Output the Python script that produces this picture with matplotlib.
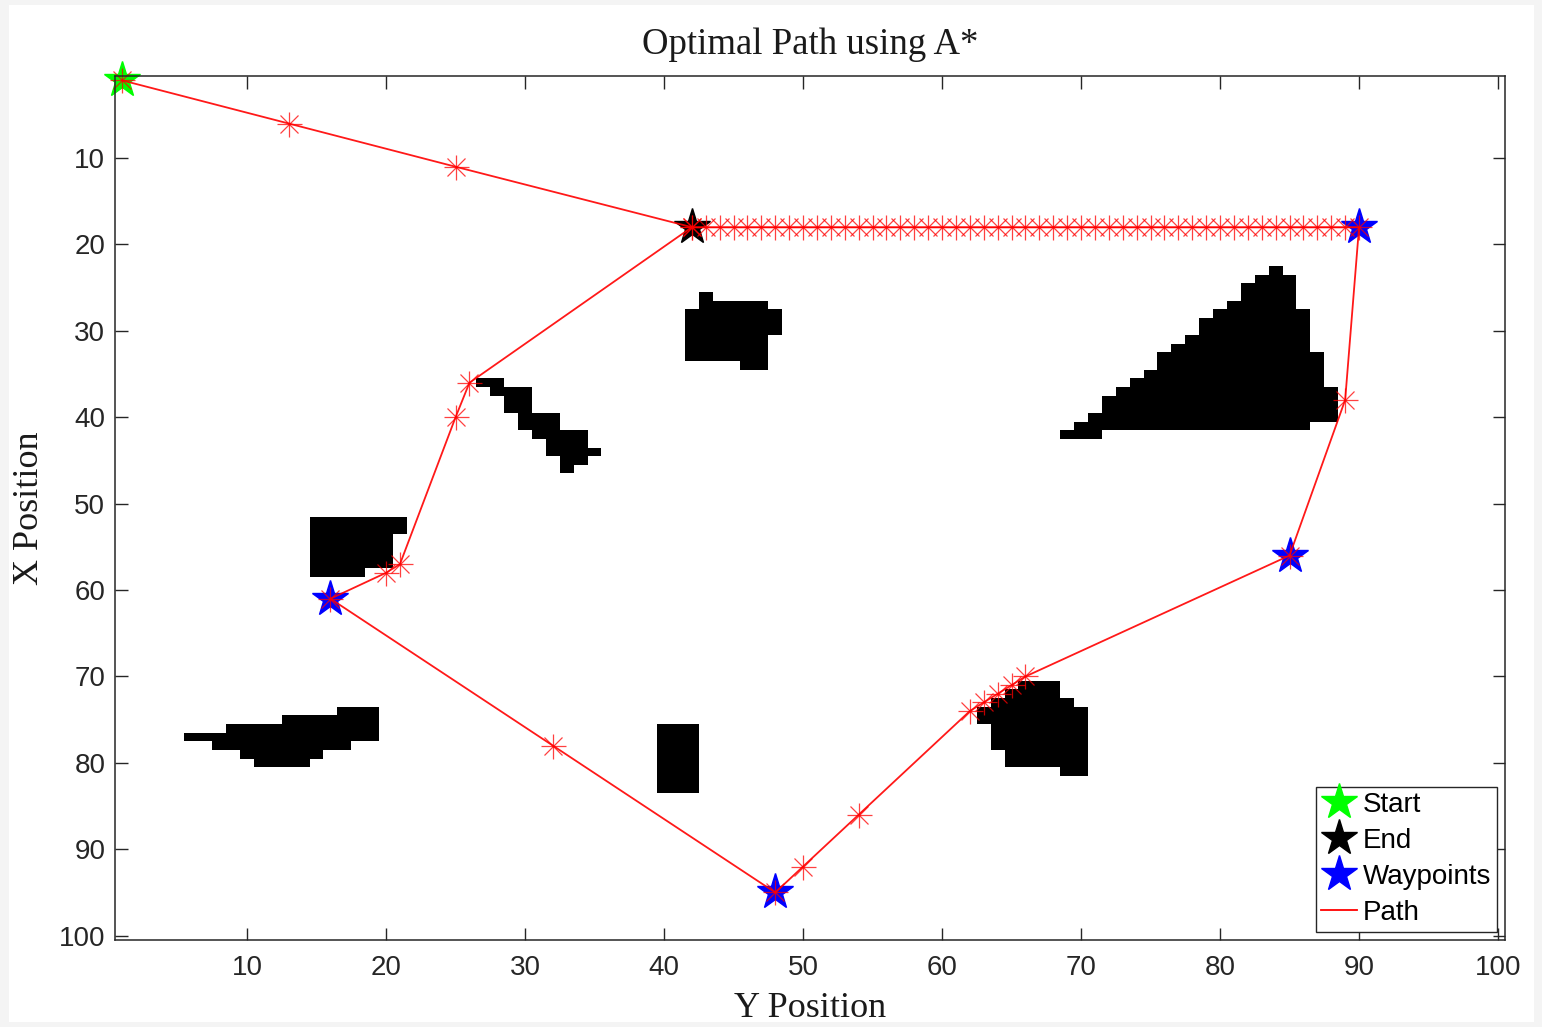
import numpy as np
import matplotlib
matplotlib.use("Agg")
import matplotlib.pyplot as plt
from matplotlib.colors import ListedColormap
from matplotlib.lines import Line2D
from matplotlib.patches import Rectangle

# ---------------- data ----------------
grid_size = 100

# obstacles: runs of (row, first_col, last_col)
obstacle_a = [(26, 43, 43), (27, 43, 47), (28, 42, 48), (29, 42, 48), (30, 42, 48),
              (31, 42, 47), (32, 42, 47), (33, 42, 47), (34, 46, 47)]
obstacle_b = [(36, 27, 28), (37, 28, 30), (38, 29, 30), (39, 29, 30), (40, 30, 32),
              (41, 30, 32), (42, 31, 34), (43, 32, 34), (44, 32, 35), (45, 33, 34),
              (46, 33, 33)]
obstacle_c = [(52, 15, 21), (53, 15, 21), (54, 15, 20), (55, 15, 20), (56, 15, 20),
              (57, 15, 20), (58, 15, 18)]
obstacle_d = [(74, 17, 19), (75, 13, 19), (76, 9, 19), (77, 6, 19), (78, 8, 17),
              (79, 10, 15), (80, 11, 14)]
obstacle_e = [(76, 40, 42), (77, 40, 42), (78, 40, 42), (79, 40, 42), (80, 40, 42),
              (81, 40, 42), (82, 40, 42), (83, 40, 42)]
obstacle_f = [(71, 66, 68), (72, 65, 68), (73, 64, 69), (74, 63, 70), (75, 63, 70),
              (76, 64, 70), (77, 64, 70), (78, 64, 70), (79, 65, 70), (80, 65, 70),
              (81, 69, 70)]
obstacle_g = [(23, 84, 84), (24, 83, 85), (25, 82, 85), (26, 82, 85), (27, 81, 85),
              (28, 80, 86), (29, 79, 86), (30, 79, 86), (31, 78, 86), (32, 77, 86),
              (33, 76, 87), (34, 76, 87), (35, 75, 87), (36, 74, 87), (37, 73, 88),
              (38, 72, 88), (39, 72, 88), (40, 71, 88), (41, 70, 86), (42, 69, 71)]
obstacles = [obstacle_a, obstacle_b, obstacle_c, obstacle_d, obstacle_e, obstacle_f, obstacle_g]

start_y, start_x = [1], [1]          # (column -> "Y Position", row -> "X Position")
end_y, end_x = [42], [18]
wp_y = [90, 85, 48, 16]
wp_x = [18, 56, 95, 61]

path_y = [1, 13, 25, 42,
          43, 44, 45, 46, 47, 48, 49, 50, 51, 52, 53, 54, 55, 56, 57, 58, 59, 60,
          61, 62, 63, 64, 65, 66, 67, 68, 69, 70, 71, 72, 73, 74, 75, 76, 77, 78,
          79, 80, 81, 82, 83, 84, 85, 86, 87, 88, 89, 90,
          89, 85, 66, 65, 64, 63, 62, 54, 50, 48, 32, 16, 20, 21, 25, 26, 42]
path_x = [1, 6, 11, 18,
          18, 18, 18, 18, 18, 18, 18, 18, 18, 18, 18, 18, 18, 18, 18, 18, 18, 18,
          18, 18, 18, 18, 18, 18, 18, 18, 18, 18, 18, 18, 18, 18, 18, 18, 18, 18,
          18, 18, 18, 18, 18, 18, 18, 18, 18, 18, 18, 18,
          38, 56, 70, 71, 72, 73, 74, 86, 92, 95, 78, 61, 58, 57, 40, 36, 18]

ticks = [10, 20, 30, 40, 50, 60, 70, 80, 90, 100]

# ---------------- build map ----------------
grid = np.zeros((grid_size, grid_size))
for obs in obstacles:
    for r, c0, c1 in obs:
        grid[r - 1, c0 - 1:c1] = 1

# ---------------- figure ----------------
W, H = 1542, 1027
fig = plt.figure(figsize=(W / 100, H / 100), dpi=100)
fig.patch.set_facecolor("#f4f4f4")
fig.patches.append(Rectangle((9 / W, 5 / H), (1534 - 9) / W, (1022 - 5) / H,
                             transform=fig.transFigure, facecolor="white",
                             edgecolor="none", zorder=-10))

ax = fig.add_axes([115 / W, 1 - 940 / H, (1505 - 115) / W, (940 - 76) / H])
ax.imshow(grid, cmap=ListedColormap(["white", "black"]), vmin=0, vmax=1,
          extent=(0.5, grid_size + 0.5, grid_size + 0.5, 0.5),
          aspect="auto", interpolation="nearest", zorder=0)

star_ms = 27
ax.plot(start_y, start_x, linestyle="none", marker="*", ms=star_ms,
        color="#00ff00", mec="#00ff00", zorder=3, clip_on=False)
ax.plot(end_y, end_x, linestyle="none", marker="*", ms=star_ms,
        color="black", mec="black", zorder=3, clip_on=False)
ax.plot(wp_y, wp_x, linestyle="none", marker="*", ms=star_ms,
        color="blue", mec="blue", zorder=3, clip_on=False)

red = "#ff0000"
ax.plot(path_y, path_x, color=red, lw=1.3, zorder=4, alpha=0.9, clip_on=False)
ax.plot(path_y, path_x, linestyle="none", marker="+", ms=18, mew=0.9,
        color=red, zorder=5, alpha=0.75, clip_on=False)
ax.plot(path_y, path_x, linestyle="none", marker="x", ms=12.5, mew=0.9,
        color=red, zorder=5, alpha=0.75, clip_on=False)

ax.set_xlim(0.5, grid_size + 0.5)
ax.set_ylim(grid_size + 0.5, 0.5)
ax.set_xticks(ticks)
ax.set_yticks(ticks)

spine_col = "#262626"
for s in ax.spines.values():
    s.set_color(spine_col)
    s.set_linewidth(1.1)
    s.set_zorder(6)
ax.tick_params(direction="in", length=9, width=1.0, color=spine_col,
               top=True, right=True, labelsize=20, labelcolor="#262626")
ax.tick_params(axis="x", pad=11)
ax.tick_params(axis="y", pad=7)
for lab in ax.get_xticklabels() + ax.get_yticklabels():
    lab.set_family(["Liberation Sans", "DejaVu Sans"])

serif = ["Liberation Serif", "DejaVu Serif"]
ax.set_title("Optimal Path using A*", family=serif, fontsize=26.5, pad=16, color="#1a1a1a")
ax.set_xlabel("Y Position", family=serif, fontsize=26, labelpad=8, color="#1a1a1a")
ax.set_ylabel("X Position", family=serif, fontsize=26, labelpad=9, color="#1a1a1a")

handles = [
    Line2D([], [], linestyle="none", marker="*", ms=star_ms, color="#00ff00"),
    Line2D([], [], linestyle="none", marker="*", ms=star_ms, color="black"),
    Line2D([], [], linestyle="none", marker="*", ms=star_ms, color="blue"),
    Line2D([], [], color=red, lw=1.3),
]
leg = ax.legend(handles, ["Start", "End", "Waypoints", "Path"], loc="lower right",
                prop={"family": ["Liberation Sans", "DejaVu Sans"], "size": 20},
                frameon=True, fancybox=False, framealpha=1, edgecolor="#262626",
                borderaxespad=0.3, labelspacing=0.36, handlelength=1.3,
                handletextpad=0.2, borderpad=0.2)
leg.get_frame().set_linewidth(1.0)
leg.set_zorder(10)

fig.savefig("out.png", dpi=100)
